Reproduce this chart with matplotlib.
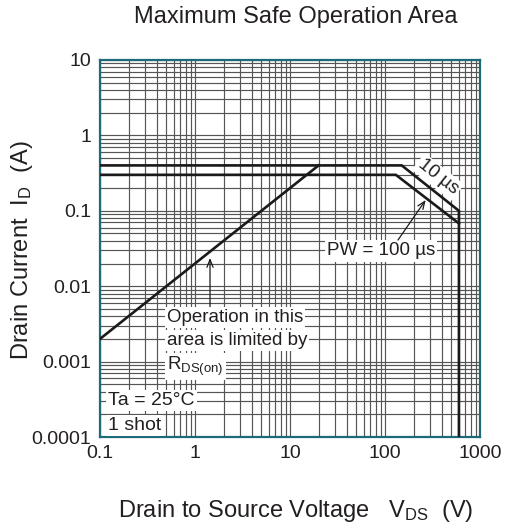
import matplotlib
matplotlib.use("Agg")
import matplotlib.pyplot as plt
from matplotlib.ticker import FixedLocator, FixedFormatter, NullFormatter
import numpy as np

plt.rcParams['font.family'] = ['Liberation Sans', 'DejaVu Sans']
plt.rcParams['mathtext.fontset'] = 'custom'
plt.rcParams['mathtext.rm'] = 'Liberation Sans'
plt.rcParams['mathtext.it'] = 'Liberation Sans:italic'
plt.rcParams['mathtext.bf'] = 'Liberation Sans:bold'

# ---- data ----
pw10_v = [0.1, 150, 600, 600]
pw10_i = [0.4, 0.4, 0.1, 0.0001]
pw100_v = [0.1, 130, 600]
pw100_i = [0.3, 0.3, 0.068]
rds_v = [0.1, 20]
rds_i = [0.002, 0.4]

x_ticks = [0.1, 1, 10, 100, 1000]
x_tick_labels = ["0.1", "1", "10", "100", "1000"]
y_ticks = [0.0001, 0.001, 0.01, 0.1, 1, 10]
y_tick_labels = ["0.0001", "0.001", "0.01", "0.1", "1", "10"]

TXT = '#231f20'
TEAL = '#1d6b78'

fig = plt.figure(figsize=(5.05, 5.27), dpi=100)
ax = fig.add_axes([100/505, 90/527, 380/505, 377/527])
ax.set_xscale('log')
ax.set_yscale('log')
ax.set_xlim(0.1, 1000)
ax.set_ylim(1e-4, 10)

ax.xaxis.set_major_locator(FixedLocator(x_ticks))
ax.xaxis.set_major_formatter(FixedFormatter(x_tick_labels))
ax.yaxis.set_major_locator(FixedLocator(y_ticks))
ax.yaxis.set_major_formatter(FixedFormatter(y_tick_labels))
xminor = [m * d for d in [0.1, 1, 10, 100] for m in range(2, 10)]
yminor = [m * d for d in [1e-4, 1e-3, 1e-2, 1e-1, 1] for m in range(2, 10)]
ax.xaxis.set_minor_locator(FixedLocator(xminor))
ax.yaxis.set_minor_locator(FixedLocator(yminor))
ax.xaxis.set_minor_formatter(NullFormatter())
ax.yaxis.set_minor_formatter(NullFormatter())

ax.grid(which='both', color='#555555', lw=0.85)
ax.tick_params(which='both', length=0, labelsize=14, labelcolor=TXT)
ax.tick_params(axis='x', pad=5.5)
ax.tick_params(axis='y', pad=6.5)
for s in ax.spines.values():
    s.set_color(TEAL)
    s.set_linewidth(1.6)

lw = 1.9
ax.plot(pw10_v, pw10_i, color='#1a1a1a', lw=lw, solid_joinstyle='miter', zorder=4)
ax.plot(pw100_v, pw100_i, color='#1a1a1a', lw=lw, solid_joinstyle='miter', zorder=4)
ax.plot(rds_v, rds_i, color='#1a1a1a', lw=lw, zorder=4)

box = dict(facecolor='white', edgecolor='none', pad=1.5)
fs = 13.5

ax.text(361, 0.281, "10 µs", fontsize=fs, color=TXT, rotation=-38.4,
        rotation_mode='anchor', ha='center', va='center', bbox=box, zorder=3)

ax.text(90.8, 0.0293, "PW = 100 µs", fontsize=fs, color=TXT,
        ha='center', va='center', bbox=box, zorder=3)
ax.annotate('', xy=(268, 0.139), xytext=(137, 0.041),
            arrowprops=dict(arrowstyle='->,head_length=0.55,head_width=0.22',
                            color='#1a1a1a', lw=0.9, shrinkA=0, shrinkB=0), zorder=5)

ax.text(0.507, 0.00335, "Operation in this", fontsize=fs, color=TXT,
        ha='left', va='baseline', bbox=box, zorder=3)
ax.text(0.507, 0.00166, "area is limited by", fontsize=fs, color=TXT,
        ha='left', va='baseline', bbox=box, zorder=3)
ax.text(0.507, 0.000774, r"R$_{\rm DS(on)}$", fontsize=fs, color=TXT,
        ha='left', va='baseline', bbox=box, zorder=3)
ax.annotate('', xy=(1.439, 0.0237), xytext=(1.439, 0.0050),
            arrowprops=dict(arrowstyle='->,head_length=0.55,head_width=0.22',
                            color='#1a1a1a', lw=0.9, shrinkA=0, shrinkB=0), zorder=2.5)

ax.text(0.1214, 0.000266, "Ta = 25°C", fontsize=14, color=TXT,
        ha='left', va='baseline', bbox=box, zorder=3)
ax.text(0.1214, 0.000124, "1 shot", fontsize=14, color=TXT,
        ha='left', va='baseline', bbox=box, zorder=3)

fig.text(296/505, 1 - 23/527, "Maximum Safe Operation Area", fontsize=17,
         color=TXT, ha='center', va='baseline')
fig.text(296/505, 1 - 517/527, r"Drain to Source Voltage   V$_{\rm DS}$  (V)",
         fontsize=17, color=TXT, ha='center', va='baseline')
fig.text(22/505, 1 - 250/527, r"Drain Current  I$_{\rm D}$  (A)", fontsize=17,
         color=TXT, ha='center', va='center', rotation=90)

fig.savefig("out.png", dpi=100)
